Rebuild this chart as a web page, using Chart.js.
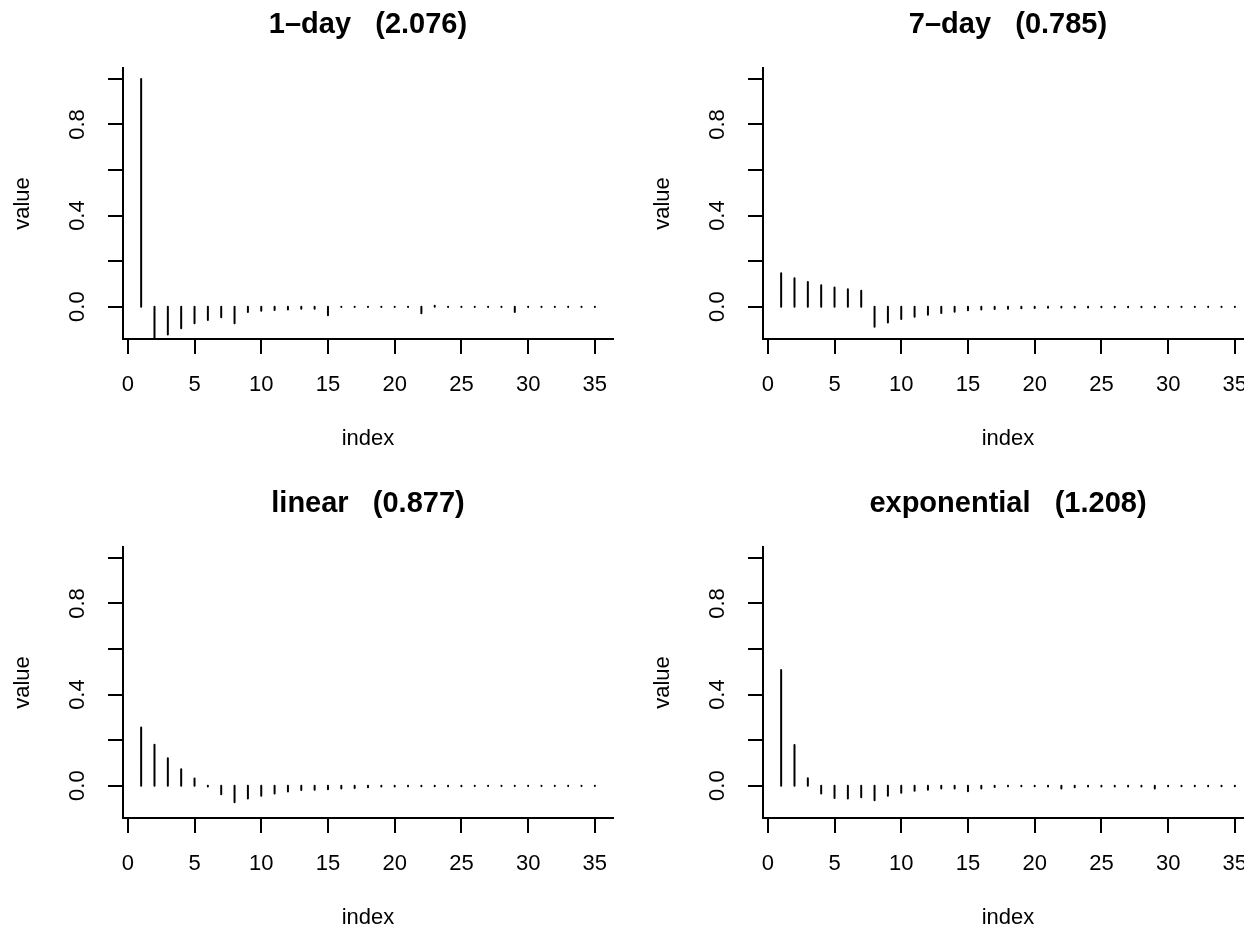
<!DOCTYPE html>
<html><head><meta charset="utf-8">
<script src="https://cdn.jsdelivr.net/npm/chart.js@4.4.0/dist/chart.umd.min.js"></script>
<style>
html,body{margin:0;padding:0;background:#fff;overflow:hidden;width:1244px;height:934px;position:relative;}
.p{position:absolute;width:622px;height:467px;}
</style></head><body>
<div class="p" style="left:0;top:0"><canvas id="c0" width="622" height="467"></canvas></div>
<div class="p" style="left:640px;top:0"><canvas id="c1" width="622" height="467"></canvas></div>
<div class="p" style="left:0;top:479px"><canvas id="c2" width="622" height="467"></canvas></div>
<div class="p" style="left:640px;top:479px"><canvas id="c3" width="622" height="467"></canvas></div>
<script>
// ---- data ----
const lags = [1,2,3,4,5,6,7,8,9,10,11,12,13,14,15,16,17,18,19,20,21,22,23,24,25,26,27,28,29,30,31,32,33,34,35];
const titles = ['1\u2013day   (2.076)', '7\u2013day   (0.785)', 'linear   (0.877)', 'exponential   (1.208)'];
const oneDay = [1.0,-0.16,-0.122,-0.095,-0.073,-0.059,-0.047,-0.073,-0.023,-0.018,-0.015,-0.012,-0.009,-0.009,-0.038,-0.002,-0.002,-0.002,-0.002,-0.002,-0.002,-0.029,0.004,-0.002,-0.002,-0.002,-0.002,-0.002,-0.023,-0.002,-0.002,-0.002,-0.002,-0.002,-0.002];
const sevenDay = [0.147,0.125,0.108,0.094,0.084,0.076,0.070,-0.088,-0.070,-0.054,-0.044,-0.035,-0.028,-0.022,-0.016,-0.013,-0.010,-0.009,-0.007,-0.006,-0.005,-0.004,-0.004,-0.004,-0.003,-0.003,-0.003,-0.003,-0.003,-0.002,-0.002,-0.002,-0.002,-0.002,-0.002];
const linearV = [0.255,0.180,0.120,0.072,0.031,-0.004,-0.038,-0.073,-0.056,-0.044,-0.034,-0.026,-0.019,-0.018,-0.016,-0.013,-0.010,-0.007,-0.004,-0.004,-0.003,-0.003,-0.003,-0.003,-0.003,-0.002,-0.002,-0.002,-0.002,-0.002,-0.002,-0.002,-0.002,-0.002,-0.002];
const expV = [0.508,0.179,0.032,-0.034,-0.054,-0.056,-0.051,-0.064,-0.044,-0.031,-0.022,-0.018,-0.013,-0.012,-0.024,-0.013,-0.006,-0.003,-0.003,-0.003,-0.004,-0.013,-0.007,-0.004,-0.004,-0.004,-0.004,-0.004,-0.012,-0.003,-0.003,-0.003,-0.003,-0.003,-0.003];
const xTicks = [0,5,10,15,20,25,30,35];
const yTicks = [0,0.2,0.4,0.6,0.8,1.0];
const yTickLabels = ['0.0','','0.4','','0.8',''];
const xRange = [-0.36, 36.36];
const yRange = [-0.142, 1.048];

const FONT = "'Liberation Sans', Arial, Helvetica, sans-serif";
const AX = {family: FONT, size: 22};

function makePanel(id, title, values){
  const pts = [];
  lags.forEach((l, i) => { pts.push({x: l, y: 0}, {x: l, y: values[i]}, {x: l, y: null}); });
  new Chart(document.getElementById(id), {
    type: 'line',
    data: {datasets: [{data: pts, borderColor: '#000', borderWidth: 2, borderCapStyle: 'round',
      pointRadius: 0, spanGaps: false, clip: 0, tension: 0, fill: false}]},
    options: {
      responsive: false, animation: false, events: [],
      layout: {autoPadding: false, padding: {left: 0, right: 9, top: 0, bottom: 0}},
      plugins: {
        legend: {display: false}, tooltip: {enabled: false},
        title: {display: true, text: title, fullSize: false, color: '#000',
          font: {family: FONT, size: 29, weight: 'bold', lineHeight: 1.2},
          padding: {top: 7.6, bottom: 25.6}}
      },
      scales: {
        x: {type: 'linear', min: xRange[0], max: xRange[1],
          afterFit(s){ s.height = 128; s.paddingLeft = 0; s.paddingRight = 0; },
          afterBuildTicks(s){ s.ticks = xTicks.map(v => ({value: v})); },
          border: {display: true, color: '#000', width: 2},
          grid: {display: true, drawOnChartArea: false, drawTicks: true, tickLength: 15, color: '#000', lineWidth: 2},
          ticks: {font: AX, color: '#000', padding: 17.8, maxRotation: 0, minRotation: 0, autoSkip: false},
          title: {display: true, text: 'index', font: AX, color: '#000', padding: {top: 0, bottom: 14.8}}
        },
        y: {type: 'linear', min: yRange[0], max: yRange[1],
          afterFit(s){ s.width = 123; s.paddingTop = 0; s.paddingBottom = 0; },
          afterBuildTicks(s){ s.ticks = yTicks.map(v => ({value: v})); },
          border: {display: true, color: '#000', width: 2},
          grid: {display: true, drawOnChartArea: false, drawTicks: true, tickLength: 15, color: '#000', lineWidth: 2},
          ticks: {font: AX, color: '#000', padding: 14.7, minRotation: 90, maxRotation: 90, crossAlign: 'center', autoSkip: false,
            callback: (v, i) => yTickLabels[i]},
          title: {display: true, text: 'value', font: AX, color: '#000', padding: {top: 9.8, bottom: 0}}
        }
      }
    }
  });
}
makePanel('c0', titles[0], oneDay);
makePanel('c1', titles[1], sevenDay);
makePanel('c2', titles[2], linearV);
makePanel('c3', titles[3], expV);
</script>
</body></html>
